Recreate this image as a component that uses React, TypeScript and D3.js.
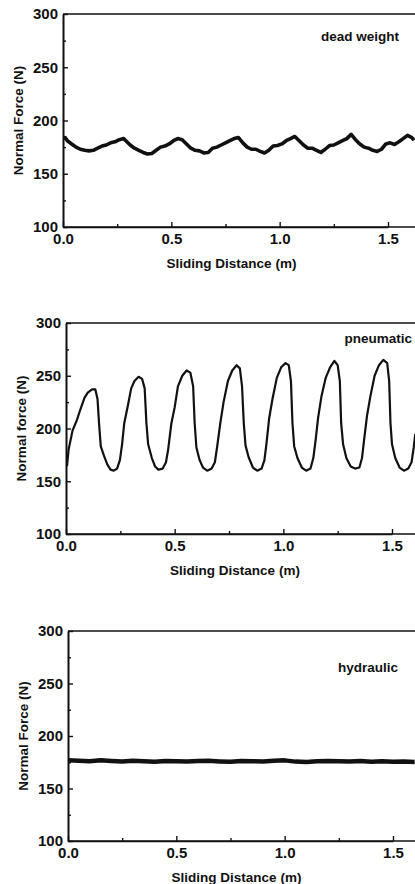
import React, { useEffect, useRef } from 'react';
import * as d3 from 'd3';

// sliding distance (m) / normal force (N)
const deadX = [0, 0.01, 0.02, 0.04, 0.06, 0.08, 0.1, 0.12, 0.14, 0.16, 0.18, 0.2, 0.22, 0.24, 0.26, 0.28, 0.29, 0.31, 0.33, 0.35, 0.37, 0.39, 0.41, 0.43, 0.45, 0.47, 0.49, 0.51, 0.53, 0.55, 0.57, 0.59, 0.61, 0.63, 0.65, 0.67, 0.69, 0.71, 0.73, 0.75, 0.77, 0.79, 0.81, 0.83, 0.85, 0.87, 0.89, 0.91, 0.93, 0.95, 0.97, 0.99, 1.01, 1.03, 1.05, 1.07, 1.09, 1.11, 1.13, 1.15, 1.17, 1.19, 1.21, 1.23, 1.25, 1.27, 1.29, 1.31, 1.33, 1.35, 1.37, 1.39, 1.41, 1.43, 1.45, 1.47, 1.49, 1.51, 1.53, 1.55, 1.57, 1.59, 1.61, 1.62];
const deadY = [183, 184, 181, 178, 175, 173, 172, 171.5, 172, 174, 176, 177, 179, 180, 182, 183, 181, 177, 174, 172, 170, 168.5, 169, 172, 175, 176, 178, 181, 183, 182, 178, 174, 172, 171.5, 169.5, 170, 174, 175, 177, 179, 181, 183, 184, 179, 175, 173, 173, 171, 169.5, 172, 176, 176.5, 178, 181, 183, 185, 181, 177, 174, 174, 172, 170, 173, 176.5, 177, 179, 181, 183, 187, 182, 178, 175, 174, 172, 171, 173, 178, 179, 177.5, 180, 183, 186, 184, 181.5];

const pneuX = [0, 0.005, 0.012, 0.03, 0.05, 0.066, 0.085, 0.1, 0.12, 0.135, 0.145, 0.152, 0.16, 0.175, 0.19, 0.205, 0.22, 0.235, 0.248, 0.258, 0.268, 0.285, 0.3, 0.315, 0.334, 0.35, 0.362, 0.37, 0.378, 0.395, 0.41, 0.425, 0.445, 0.46, 0.47, 0.485, 0.5, 0.515, 0.535, 0.555, 0.572, 0.585, 0.592, 0.6, 0.615, 0.63, 0.65, 0.67, 0.685, 0.695, 0.71, 0.725, 0.745, 0.765, 0.785, 0.8, 0.81, 0.818, 0.826, 0.84, 0.86, 0.88, 0.9, 0.913, 0.922, 0.935, 0.95, 0.97, 0.99, 1.01, 1.025, 1.035, 1.042, 1.05, 1.065, 1.085, 1.105, 1.125, 1.138, 1.148, 1.16, 1.175, 1.195, 1.215, 1.235, 1.25, 1.26, 1.266, 1.275, 1.29, 1.31, 1.33, 1.35, 1.362, 1.372, 1.385, 1.4, 1.42, 1.44, 1.46, 1.478, 1.487, 1.493, 1.5, 1.515, 1.535, 1.555, 1.575, 1.59, 1.6, 1.607];
const pneuY = [168, 165, 180, 198, 208, 218, 229, 234, 237, 237, 228, 205, 183, 174, 166, 161, 160, 162, 170, 185, 205, 222, 238, 245, 249, 247, 238, 205, 185, 172, 164, 161, 162, 168, 180, 205, 220, 240, 250, 255, 253, 240, 205, 182, 170, 163, 160, 162, 168, 182, 205, 225, 245, 255, 260, 257, 240, 205, 184, 173, 163, 160, 162, 170, 185, 210, 228, 248, 258, 262, 260, 245, 205, 183, 172, 163, 160, 162, 172, 188, 210, 230, 248, 258, 264, 260, 245, 205, 185, 172, 164, 162, 163, 172, 190, 212, 230, 250, 260, 265, 262, 245, 205, 185, 172, 163, 160, 162, 168, 182, 195];

const hydX = [0, 0.05, 0.1, 0.15, 0.2, 0.25, 0.3, 0.35, 0.4, 0.45, 0.5, 0.55, 0.6, 0.65, 0.7, 0.75, 0.8, 0.85, 0.9, 0.95, 1.0, 1.05, 1.1, 1.15, 1.2, 1.25, 1.3, 1.35, 1.4, 1.45, 1.5, 1.55, 1.6];
const hydY = [177, 176.5, 176, 176.8, 176.2, 175.8, 176.5, 176, 175.5, 176.3, 176, 175.6, 176.1, 176.4, 175.8, 175.4, 176.2, 176, 175.7, 176.5, 176.8, 175.6, 175.2, 175.9, 176.3, 176, 175.8, 176.1, 175.5, 175.9, 175.4, 175.7, 175.3];

const xTicks = [0, 0.5, 1.0, 1.5];
const xMinor = [0.25, 0.75, 1.25];
const yTicks = [100, 150, 200, 250, 300];
const yMinor = [125, 175, 225, 275];

const series = [
  { x: deadX, y: deadY, label: 'dead weight', yTitle: 'Normal Force (N)' },
  { x: pneuX, y: pneuY, label: 'pneumatic', yTitle: 'Normal force (N)' },
  { x: hydX, y: hydY, label: 'hydraulic', yTitle: 'Normal Force (N)' },
];

// frame geometry of each panel in the page
const layout = [
  { top: 14, bottom: 227, left: 63, x15: 388, labelX: 399, labelY: 36, stroke: 3.6 },
  { top: 323, bottom: 534, left: 66, x15: 392, labelX: 412, labelY: 338, stroke: 2.2 },
  { top: 631, bottom: 841, left: 68, x15: 393, labelX: 398, labelY: 667, stroke: 4.5 },
];

const W = 415;
const H = 884;
const FONT = "'Liberation Sans', Arial, Helvetica, sans-serif";

const App = () => {
  const svgRef = useRef(null);

  useEffect(() => {
    const svg = d3.select(svgRef.current);
    svg.selectAll('*').remove();
    svg.attr('width', W).attr('height', H);

    series.forEach((s, i) => {
      const L = layout[i];
      const x = d3.scaleLinear().domain([0, 1.5]).range([L.left, L.x15]);
      const y = d3.scaleLinear().domain([100, 300]).range([L.bottom, L.top]);
      const g = svg.append('g');

      g.append('clipPath').attr('id', `clip${i}`)
        .append('rect')
        .attr('x', L.left).attr('y', L.top - 10)
        .attr('width', W - L.left).attr('height', L.bottom - L.top + 10);

      // left axis, ticks inward
      const ya = g.append('g').attr('transform', `translate(${L.left},0)`)
        .call(d3.axisLeft(y).tickValues(yTicks).tickFormat(d3.format('d')).tickSize(-5).tickPadding(5).tickSizeOuter(0));
      g.append('g').attr('transform', `translate(${L.left},0)`)
        .call(d3.axisLeft(y).tickValues(yMinor).tickFormat(() => '').tickSize(-3).tickSizeOuter(0));

      // bottom axis, ticks inward
      const xa = g.append('g').attr('transform', `translate(0,${L.bottom})`)
        .call(d3.axisBottom(x).tickValues(xTicks).tickFormat(d3.format('.1f')).tickSize(-5).tickPadding(6).tickSizeOuter(0));
      g.append('g').attr('transform', `translate(0,${L.bottom})`)
        .call(d3.axisBottom(x).tickValues(xMinor).tickFormat(() => '').tickSize(-3).tickSizeOuter(0));

      // top frame
      g.append('line')
        .attr('x1', L.left).attr('x2', W)
        .attr('y1', L.top).attr('y2', L.top)
        .attr('stroke', '#111').attr('stroke-width', 1.6);

      g.selectAll('.domain').attr('stroke', '#111').attr('stroke-width', 1.6);
      g.selectAll('.tick line').attr('stroke', '#111').attr('stroke-width', 1.4);
      [ya, xa].forEach(a => a.selectAll('text')
        .attr('font-family', FONT).attr('font-weight', 'bold')
        .attr('font-size', 15).attr('fill', '#111'));
      // x domain path runs to the page edge
      xa.select('.domain').attr('d', `M${L.left},0H${W}`);

      const line = d3.line<number>()
        .x((_, k) => x(s.x[k]))
        .y(d => y(d))
        .curve(d3.curveLinear);

      g.append('path')
        .datum(s.y)
        .attr('clip-path', `url(#clip${i})`)
        .attr('d', line)
        .attr('fill', 'none')
        .attr('stroke', '#111')
        .attr('stroke-width', L.stroke)
        .attr('stroke-linejoin', 'round');

      // axis titles
      g.append('text')
        .attr('x', (L.left + L.x15) / 2 + 6)
        .attr('y', L.bottom + 36)
        .attr('dy', '0.35em')
        .attr('text-anchor', 'middle')
        .attr('font-family', FONT).attr('font-weight', 'bold')
        .attr('font-size', 13.5).attr('fill', '#111')
        .text('Sliding Distance (m)');

      g.append('text')
        .attr('transform', `translate(${L.left - 45},${(L.top + L.bottom) / 2}) rotate(-90)`)
        .attr('dy', '0.35em')
        .attr('text-anchor', 'middle')
        .attr('font-family', FONT).attr('font-weight', 'bold')
        .attr('font-size', 13.5).attr('fill', '#111')
        .text(s.yTitle);

      g.append('text')
        .attr('x', L.labelX).attr('y', L.labelY)
        .attr('dy', '0.35em')
        .attr('text-anchor', 'end')
        .attr('font-family', FONT).attr('font-weight', 'bold')
        .attr('font-size', 13.5).attr('fill', '#111')
        .text(s.label);
    });
  }, []);

  return (
    <svg
      ref={svgRef}
      style={{ position: 'absolute', left: 0, top: 0, background: '#fff' }}
      aria-label="Normal force vs sliding distance"
    />
  );
};

export default App;
